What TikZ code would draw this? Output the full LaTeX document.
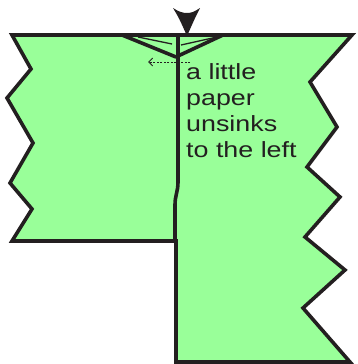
\documentclass[tikz,border=0pt]{standalone}
\usepackage{fontspec}
\setmainfont{Liberation Sans}
\usepackage{graphicx}
\usetikzlibrary{arrows.meta}
\definecolor{paper}{RGB}{153,255,153}
\definecolor{ink}{RGB}{35,31,32}
\tikzset{
  outline/.style={draw=ink, line width=3.6pt, line join=miter},
  thickline/.style={draw=ink, line width=3.6pt, line cap=round},
  thinline/.style={draw=ink, line width=1.3pt},
  movearrow/.style={draw=ink, line width=0.9pt, dash pattern=on 2pt off 1.5pt, -{Straight Barb[length=4pt,width=8pt]}},
  label/.style={inner sep=0pt, anchor=base west, text=ink}
}
\begin{document}
\begin{tikzpicture}[x=1pt,y=-1pt]
\useasboundingbox (0,0) rectangle (357,364);
% paper
\path[outline, fill=paper] (12,35) -- (352,35) -- (310,82) -- (337,127) -- (307,167) -- (340,197)
  -- (305,237) -- (345,270) -- (303,308) -- (350,362) -- (176,362) -- (176,241) -- (12,241)
  -- (32,209) -- (10,183) -- (33,143) -- (7,98) -- (31,69) -- cycle;
% centre line
\coordinate (ctop) at (178,35);
\coordinate (cbend) at (178,182);
\coordinate (cmid) at (175,205);
\coordinate (cbot) at (175,241);
\draw[thickline] (ctop) -- (cbend) .. controls (178,192) and (175,195) .. (cmid) -- (cbot);
% V folds
\coordinate (vl) at (122,35);
\coordinate (vr) at (223,35);
\coordinate (vm1) at (176,57);
\coordinate (vm2) at (178,56);
\draw[thickline] (vl) -- (vm1);
\draw[thickline] (vr) -- (vm2);
\coordinate (tl1) at (138,37);
\coordinate (tl2) at (172,44);
\coordinate (tr1) at (217,37);
\coordinate (tr2) at (181,45);
\draw[thinline] (tl1) -- (tl2);
\draw[thinline] (tr1) -- (tr2);
% push arrow
\fill[ink] (173,8) .. controls (179,18) .. (187,36) .. controls (195,18) .. (200,8)
  .. controls (194,12) and (191,13) .. (187,13) .. controls (183,13) and (179,12) .. (173,8) -- cycle;
% dashed arrow
\coordinate (ds) at (190,62);
\coordinate (de) at (148,62);
\draw[movearrow] (ds) -- (de);
% label
\node[label] (txt) at (186,79) {\scalebox{1.22}[1]{\fontsize{22}{26}\selectfont\begin{tabular}[t]{@{}l@{}}a little\\paper\\unsinks\\to the left\end{tabular}}};
\end{tikzpicture}
\end{document}
